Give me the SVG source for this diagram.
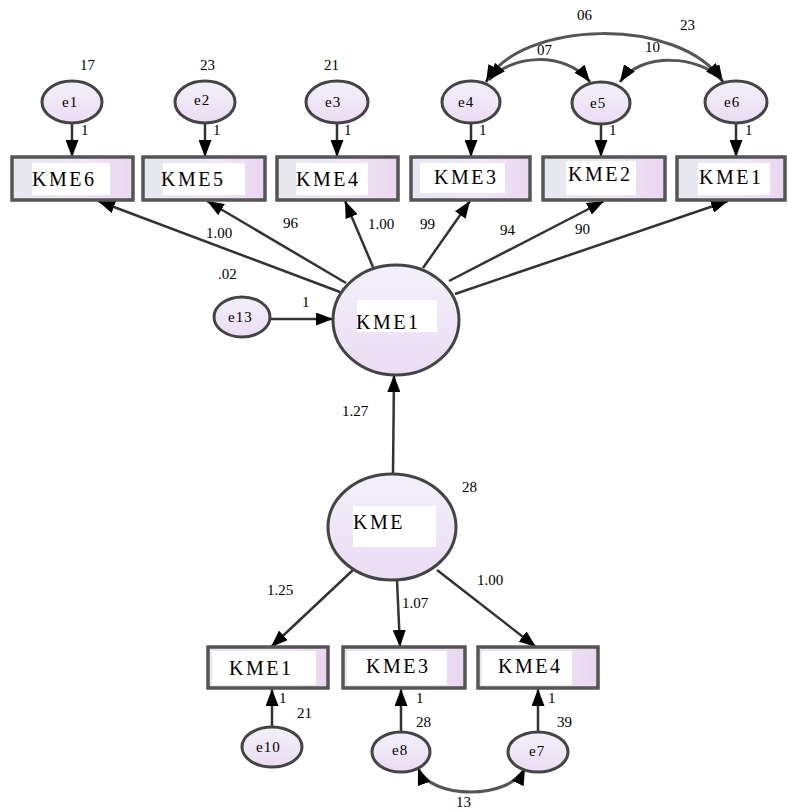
<svg xmlns="http://www.w3.org/2000/svg" width="788" height="812" viewBox="0 0 788 812" font-family="Liberation Serif, DejaVu Serif, serif">
<defs>
<linearGradient id="boxg" x1="0" y1="0" x2="1" y2="0">
<stop offset="0" stop-color="#e6e8f0"/>
<stop offset="0.6" stop-color="#efe6f4"/>
<stop offset="1" stop-color="#ead6f0"/>
</linearGradient>
<linearGradient id="ellg" x1="0" y1="0" x2="0" y2="1">
<stop offset="0" stop-color="#f2f0fa"/>
<stop offset="1" stop-color="#ebdcf3"/>
</linearGradient>
<marker id="ah" viewBox="0 0 17 13" refX="17" refY="6.5" markerWidth="17" markerHeight="13" markerUnits="userSpaceOnUse" orient="auto-start-reverse">
<path d="M0,0 L17,6.5 L0,13 z" fill="#000"/>
</marker>
<style>
.box{fill:url(#boxg);stroke:#555;stroke-width:3.5}
.ell{fill:url(#ellg);stroke:#444;stroke-width:3}
.wb{fill:#fff}
.t{fill:#000}
.big{font-size:20px;letter-spacing:2.5px}
.el{font-size:15px;letter-spacing:1px}
.n{font-size:15px}
.ln{fill:none;stroke:#333;stroke-width:2.5}
.cv{fill:none;stroke:#555;stroke-width:3}
.arr{marker-end:url(#ah)}
.bi{marker-start:url(#ah);marker-end:url(#ah)}
</style>
</defs>
<rect width="788" height="812" fill="#fff"/>

<g id="connectors">
<line class="ln arr" x1="72" y1="123" x2="72" y2="157"/>
<line class="ln arr" x1="205" y1="123" x2="205" y2="157"/>
<line class="ln arr" x1="337" y1="123" x2="337" y2="157"/>
<line class="ln arr" x1="471" y1="123" x2="471" y2="157"/>
<line class="ln arr" x1="601" y1="124" x2="601" y2="157"/>
<line class="ln arr" x1="736" y1="123" x2="736" y2="157"/>
<path class="cv bi" d="M486,82 C520,20 680,15 723,82"/>
<path class="cv bi" d="M489,80 C510,55 565,50 590,82"/>
<path class="cv bi" d="M620,82 C640,52 700,55 722,80"/>
<line class="ln arr" x1="340" y1="292" x2="98" y2="201"/>
<line class="ln arr" x1="346" y1="283" x2="207" y2="201"/>
<line class="ln arr" x1="373" y1="267" x2="345" y2="201"/>
<line class="ln arr" x1="423" y1="268" x2="470" y2="201"/>
<line class="ln arr" x1="449" y1="281" x2="604" y2="201"/>
<line class="ln arr" x1="455" y1="294" x2="728" y2="201"/>
<line class="ln arr" x1="270" y1="319" x2="333" y2="319"/>
<line class="ln arr" x1="393" y1="474" x2="394" y2="375"/>
<line class="ln arr" x1="353" y1="570" x2="271" y2="647"/>
<line class="ln arr" x1="397" y1="580" x2="400" y2="647"/>
<line class="ln arr" x1="437" y1="570" x2="536" y2="647"/>
<line class="ln arr" x1="272" y1="727" x2="272" y2="689"/>
<line class="ln arr" x1="401" y1="732" x2="401" y2="689"/>
<line class="ln arr" x1="538" y1="732" x2="538" y2="689"/>
<path class="cv bi" d="M418,768 C430,800 510,800 525,768"/>
</g>

<g id="e1"><ellipse class="ell" cx="72" cy="102" rx="30" ry="21"/><text class="t el" x="62" y="107">e1</text></g>
<g id="e2"><ellipse class="ell" cx="205" cy="102" rx="30" ry="21"/><text class="t el" x="194" y="105">e2</text></g>
<g id="e3"><ellipse class="ell" cx="337" cy="102" rx="31" ry="21"/><text class="t el" x="325" y="107">e3</text></g>
<g id="e4"><ellipse class="ell" cx="471" cy="102" rx="29" ry="21"/><text class="t el" x="458" y="107">e4</text></g>
<g id="e5"><ellipse class="ell" cx="601" cy="103" rx="29" ry="21"/><text class="t el" x="590" y="108">e5</text></g>
<g id="e6"><ellipse class="ell" cx="736" cy="102" rx="31" ry="21"/><text class="t el" x="724" y="107">e6</text></g>

<g id="box-KME6"><rect class="box" x="12" y="157" width="121" height="43"/><rect class="wb" x="32" y="163" width="78" height="32"/><text class="t big" x="32" y="186">KME6</text></g>
<g id="box-KME5"><rect class="box" x="143" y="157" width="122" height="43"/><rect class="wb" x="163" y="163" width="82" height="32"/><text class="t big" x="161" y="186">KME5</text></g>
<g id="box-KME4"><rect class="box" x="277" y="157" width="121" height="43"/><rect class="wb" x="296" y="163" width="72" height="32"/><text class="t big" x="296" y="186">KME4</text></g>
<g id="box-KME3"><rect class="box" x="411" y="157" width="119" height="43"/><rect class="wb" x="420" y="163" width="85" height="30"/><text class="t big" x="434" y="184">KME3</text></g>
<g id="box-KME2"><rect class="box" x="543" y="157" width="122" height="43"/><rect class="wb" x="566" y="161" width="70" height="34"/><text class="t big" x="568" y="181">KME2</text></g>
<g id="box-KME1t"><rect class="box" x="677" y="157" width="108" height="43"/><rect class="wb" x="698" y="163" width="72" height="32"/><text class="t big" x="699" y="184">KME1</text></g>

<g id="lat-KME1"><ellipse class="ell" cx="396" cy="320" rx="63" ry="55"/><rect class="wb" x="357" y="300" width="80" height="32"/><text class="t big" x="356" y="329">KME1</text></g>
<g id="e13"><ellipse class="ell" cx="242" cy="317" rx="28" ry="20"/><text class="t el" x="228" y="322">e13</text></g>
<g id="lat-KME"><ellipse class="ell" cx="392" cy="527" rx="64" ry="53"/><rect class="wb" x="353" y="506" width="83" height="41"/><text class="t big" x="353" y="529">KME</text></g>

<g id="box-KME1b"><rect class="box" x="208" y="647" width="120" height="41"/><rect class="wb" x="212" y="651" width="104" height="34"/><text class="t big" x="229" y="675">KME1</text></g>
<g id="box-KME3b"><rect class="box" x="343" y="647" width="122" height="41"/><rect class="wb" x="347" y="651" width="100" height="34"/><text class="t big" x="366" y="673">KME3</text></g>
<g id="box-KME4b"><rect class="box" x="478" y="647" width="120" height="41"/><rect class="wb" x="482" y="651" width="90" height="34"/><text class="t big" x="498" y="673">KME4</text></g>

<g id="e10"><ellipse class="ell" cx="272" cy="747" rx="30" ry="20"/><text class="t el" x="256" y="752">e10</text></g>
<g id="e8"><ellipse class="ell" cx="401" cy="752" rx="29" ry="20"/><text class="t el" x="392" y="755">e8</text></g>
<g id="e7"><ellipse class="ell" cx="538" cy="752" rx="30" ry="20"/><text class="t el" x="529" y="756">e7</text></g>

<g id="labels" class="t n">
<text x="80" y="70">17</text>
<text x="200" y="70">23</text>
<text x="324" y="70">21</text>
<text x="577" y="20">06</text>
<text x="680" y="30">23</text>
<text x="537" y="55">07</text>
<text x="645" y="52">10</text>
<text x="81" y="135">1</text>
<text x="213" y="135">1</text>
<text x="344" y="135">1</text>
<text x="479" y="135">1</text>
<text x="609" y="135">1</text>
<text x="745" y="135">1</text>
<text x="206" y="238">1.00</text>
<text x="283" y="228">96</text>
<text x="368" y="229">1.00</text>
<text x="420" y="229">99</text>
<text x="500" y="235">94</text>
<text x="575" y="234">90</text>
<text x="218" y="279">.02</text>
<text x="302" y="307">1</text>
<text x="342" y="416">1.27</text>
<text x="462" y="492">28</text>
<text x="267" y="595">1.25</text>
<text x="402" y="608">1.07</text>
<text x="477" y="585">1.00</text>
<text x="279" y="703">1</text>
<text x="297" y="718">21</text>
<text x="416" y="703">1</text>
<text x="416" y="727">28</text>
<text x="548" y="703">1</text>
<text x="557" y="727">39</text>
<text x="456" y="807">13</text>
</g>
</svg>
